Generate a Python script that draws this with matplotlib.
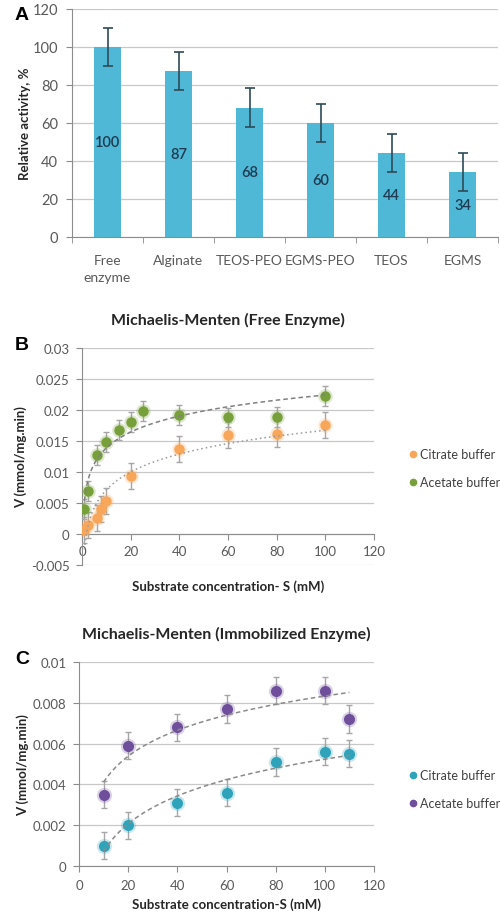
import matplotlib
matplotlib.use('Agg')
import matplotlib.pyplot as plt
import numpy as np
from matplotlib.lines import Line2D
from matplotlib.ticker import FuncFormatter, MultipleLocator

plt.rcParams['font.family'] = ['Lato', 'DejaVu Sans']

# ---------------- data ----------------
categories = ["Free\nenzyme", "Alginate", "TEOS-PEO", "EGMS-PEO", "TEOS", "EGMS"]
activity = [100, 87, 68, 60, 44, 34]
activity_err = [10, 10, 10, 10, 10, 10]

b_citrate_s = [1, 2.5, 6, 8, 10, 20, 40, 60, 80, 100]
b_citrate_v = [0.0007, 0.0015, 0.0026, 0.0041, 0.0054, 0.0094, 0.0137, 0.0159, 0.0162, 0.0176]
b_citrate_err = [0.0021] * 10
b_acetate_s = [1, 2.5, 6, 10, 15, 20, 25, 40, 60, 80, 100]
b_acetate_v = [0.0041, 0.0070, 0.0128, 0.0149, 0.0168, 0.0180, 0.0199, 0.0192, 0.0188, 0.0189, 0.0222]
b_acetate_err = [0.0016] * 11

c_s = [10, 20, 40, 60, 80, 100, 110]
c_citrate_v = [0.0010, 0.0020, 0.0031, 0.0036, 0.0051, 0.0056, 0.0055]
c_citrate_err = [0.00067] * 7
c_acetate_v = [0.0035, 0.0059, 0.0068, 0.0077, 0.0086, 0.0086, 0.0072]
c_acetate_err = [0.00067] * 7

# ---------------- styles ----------------
TICK = '#595959'
GRID = '#C8C8C8'
AXC = '#8C8C8C'
BAR = '#4FB8D6'
ORANGE = '#F8A75A'
GREEN = '#77A03B'
CYAN = '#2EA3BA'
PURPLE = '#6F4F9B'
EBAR = '#A6A6A6'

W, H = 500, 920
fig = plt.figure(figsize=(W / 100, H / 100), dpi=100)


def ax_px(left, top, right, bottom):
    return fig.add_axes([left / W, 1 - bottom / H, (right - left) / W, (bottom - top) / H])


def style_common(ax, ls=10):
    for s in ['top', 'right']:
        ax.spines[s].set_visible(False)
    ax.spines['left'].set_color(AXC)
    ax.spines['bottom'].set_color(AXC)
    ax.tick_params(colors=TICK, labelsize=ls, width=0.8)
    ax.set_axisbelow(True)
    ax.yaxis.grid(True, color=GRID, lw=0.9)


# ---------------- Panel A ----------------
axA = ax_px(72, 9.5, 498, 238)
style_common(axA, 10.5)
x = np.arange(len(categories))
axA.bar(x, activity, width=0.39, color=BAR, zorder=2)
axA.errorbar(x, activity, yerr=activity_err, fmt='none', ecolor='#2E4A57',
             elinewidth=1.2, capsize=3.5, capthick=1.2, zorder=3)
for xi, v in zip(x, activity):
    axA.text(xi, v / 2, f"{v}", ha='center', va='center', fontsize=10.5,
             fontweight='semibold', color='#1F3A50', zorder=4)
axA.set_xlim(-0.5, len(categories) - 0.5)
axA.set_ylim(0, 120)
axA.yaxis.set_major_locator(MultipleLocator(20))
axA.set_xticks(x)
axA.set_xticklabels(categories, fontsize=10, color=TICK, linespacing=1.5)
axA.set_xticks(np.arange(-0.5, len(categories), 1), minor=True)
axA.tick_params(axis='x', which='major', length=0, pad=12)
axA.tick_params(axis='x', which='minor', length=4, color=AXC)
axA.tick_params(axis='y', length=4, color=AXC, pad=6)
axA.set_ylabel("Relative activity, %", fontsize=9.5, fontweight='bold', color='#262626', labelpad=1)
fig.text(15 / W, 1 - 16 / H, "A", fontsize=14, fontweight='bold', family='Liberation Sans',
         ha='left', va='center')


def glow_scatter(ax, xs, ys, color, size):
    ax.plot(xs, ys, 'o', ms=size + 3, color=color, alpha=0.25, mec='none', zorder=4)
    ax.plot(xs, ys, 'o', ms=size, color=color, mec='none', zorder=5)


def log_trend(ax, xs, ys, ls, color, lw=1.1):
    k = np.polyfit(np.log(xs), ys, 1)
    xx = np.linspace(min(xs), max(xs), 200)
    ax.plot(xx, k[0] * np.log(xx) + k[1], ls=ls, color=color, lw=lw, zorder=6)


def legend_at(ax, handles, ycenter):
    ax.legend(handles=handles, loc='center left', bbox_to_anchor=(409 / W, 1 - ycenter / H),
              bbox_transform=fig.transFigure, frameon=False, fontsize=9, borderpad=0,
              borderaxespad=0, handlelength=0.6, handletextpad=0.3, labelspacing=1.3,
              labelcolor='#404040')


# ---------------- Panel B ----------------
axB = ax_px(82, 349, 374, 566)
style_common(axB, 9.5)
axB.set_xlim(0, 120)
axB.set_ylim(-0.005, 0.03)
axB.yaxis.set_major_locator(MultipleLocator(0.005))
axB.xaxis.set_major_locator(MultipleLocator(20))
axB.yaxis.set_major_formatter(FuncFormatter(lambda v, p: f"{v:g}" if abs(v) > 1e-12 else "0"))
axB.spines['bottom'].set_position(('data', 0))
axB.tick_params(axis='x', length=4, color=AXC, pad=4)
axB.tick_params(axis='y', length=4, color=AXC, pad=5)
axB.errorbar(b_citrate_s, b_citrate_v, yerr=b_citrate_err, fmt='none', ecolor=EBAR,
             elinewidth=1, capsize=2.5, zorder=3)
axB.errorbar(b_acetate_s, b_acetate_v, yerr=b_acetate_err, fmt='none', ecolor=EBAR,
             elinewidth=1, capsize=2.5, zorder=3)
glow_scatter(axB, b_citrate_s, b_citrate_v, ORANGE, 7.5)
glow_scatter(axB, b_acetate_s, b_acetate_v, GREEN, 7.5)
log_trend(axB, b_acetate_s, b_acetate_v, (0, (3, 2)), '#808080')
log_trend(axB, b_citrate_s, b_citrate_v, (0, (1, 2)), '#9A9A9A')
axB.set_title("Michaelis-Menten (Free Enzyme)", fontsize=11.5, fontweight='bold',
              color='#262626', pad=17)
axB.set_xlabel("Substrate concentration- S (mM)", fontsize=9.5, fontweight='bold',
               color='#262626', labelpad=16)
axB.set_ylabel("V (mmol/mg.min)", fontsize=9.5, fontweight='bold', color='#262626', labelpad=3)
hB = [Line2D([], [], marker='o', ls='none', color=ORANGE, ms=4.5, label='Citrate buffer'),
      Line2D([], [], marker='o', ls='none', color=GREEN, ms=4.5, label='Acetate buffer')]
legend_at(axB, hB, 469)
fig.text(15 / W, 1 - 345 / H, "B", fontsize=14, fontweight='bold', family='Liberation Sans',
         ha='left', va='center')

# ---------------- Panel C ----------------
axC = ax_px(79, 663, 374, 867)
style_common(axC, 9.5)
axC.set_xlim(0, 120)
axC.set_ylim(0, 0.01)
axC.yaxis.set_major_locator(MultipleLocator(0.002))
axC.xaxis.set_major_locator(MultipleLocator(20))
axC.yaxis.set_major_formatter(FuncFormatter(lambda v, p: f"{v:g}" if abs(v) > 1e-12 else "0"))
axC.tick_params(axis='x', length=4, color=AXC, pad=5)
axC.tick_params(axis='y', length=4, color=AXC, pad=5)
axC.errorbar(c_s, c_citrate_v, yerr=c_citrate_err, fmt='none', ecolor=EBAR,
             elinewidth=1, capsize=2.5, zorder=3)
axC.errorbar(c_s, c_acetate_v, yerr=c_acetate_err, fmt='none', ecolor=EBAR,
             elinewidth=1, capsize=2.5, zorder=3)
glow_scatter(axC, c_s, c_citrate_v, CYAN, 8)
glow_scatter(axC, c_s, c_acetate_v, PURPLE, 8)
log_trend(axC, c_s, c_acetate_v, (0, (3, 2)), '#8A8A8A')
log_trend(axC, c_s, c_citrate_v, (0, (3, 2)), '#8A8A8A')
axC.set_title("Michaelis-Menten (Immobilized Enzyme)", fontsize=11.5, fontweight='bold',
              color='#262626', pad=17)
axC.set_xlabel("Substrate concentration-S (mM)", fontsize=9.5, fontweight='bold',
               color='#262626', labelpad=5)
axC.set_ylabel("V (mmol/mg.min)", fontsize=9.5, fontweight='bold', color='#262626', labelpad=3)
hC = [Line2D([], [], marker='o', ls='none', color=CYAN, ms=4.5, label='Citrate buffer'),
      Line2D([], [], marker='o', ls='none', color=PURPLE, ms=4.5, label='Acetate buffer')]
legend_at(axC, hC, 790)
fig.text(15 / W, 1 - 660 / H, "C", fontsize=14, fontweight='bold', family='Liberation Sans',
         ha='left', va='center')

fig.savefig('out.png', dpi=100, facecolor='white')
